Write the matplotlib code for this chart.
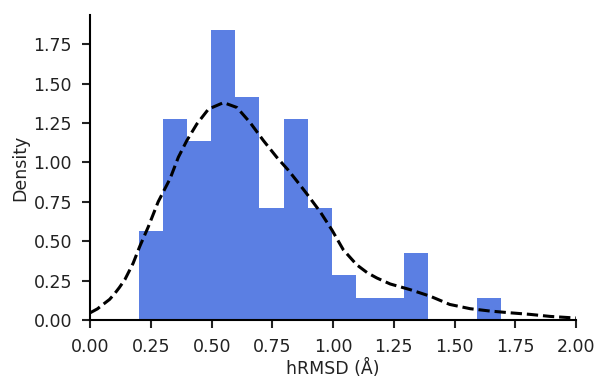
import numpy as np
import matplotlib.pyplot as plt

# Histogram: 15 equal bins between the smallest and largest hRMSD
bin_lo, bin_hi, n_bins = 0.20, 1.69, 15
counts = [4, 9, 8, 13, 10, 5, 9, 5, 2, 1, 1, 3, 0, 0, 1]

# Density estimate traced along the x range
kde_x = [0.00, 0.03, 0.053, 0.08, 0.10, 0.12, 0.143, 0.177, 0.204, 0.239, 0.28,
         0.329, 0.363, 0.398, 0.439, 0.487, 0.549, 0.604, 0.658, 0.713, 0.768,
         0.816, 0.862, 0.892, 0.947, 0.995, 1.042, 1.097, 1.14, 1.18, 1.235,
         1.317, 1.40, 1.48, 1.564, 1.646, 1.728, 1.81, 1.893, 1.975, 2.00]
kde_y = [0.045, 0.07, 0.098, 0.13, 0.165, 0.205, 0.256, 0.36, 0.466, 0.59, 0.75,
         0.897, 1.033, 1.139, 1.244, 1.339, 1.38, 1.349, 1.254, 1.139, 1.033,
         0.95, 0.86, 0.80, 0.686, 0.571, 0.445, 0.35, 0.30, 0.266, 0.228,
         0.192, 0.15, 0.098, 0.071, 0.056, 0.045, 0.035, 0.022, 0.014, 0.012]

plt.rcParams["font.family"] = "DejaVu Sans"
plt.rcParams["font.size"] = 12.5

fig = plt.figure(figsize=(5.97, 3.79), dpi=100)
ax = fig.add_axes([0.151, 0.156, 0.814, 0.804])

edges = np.linspace(bin_lo, bin_hi, n_bins + 1)
ax.hist(edges[:-1], bins=edges, weights=counts, density=True,
        color="#5b7fe3", linewidth=0)
ax.plot(kde_x, kde_y, color="black", linestyle="--", linewidth=2.2)

ax.set_xlim(0, 2)
ax.set_xticks(np.arange(0, 2.01, 0.25))
ax.set_yticks(np.arange(0, 1.76, 0.25))
ax.set_xticklabels([f"{t:.2f}" for t in np.arange(0, 2.01, 0.25)])
ax.set_yticklabels([f"{t:.2f}" for t in np.arange(0, 1.76, 0.25)])
ax.set_xlabel("hRMSD (Å)", labelpad=2, color="#222222")
ax.set_ylabel("Density", labelpad=3, color="#222222")

for spine in ["top", "right"]:
    ax.spines[spine].set_visible(False)
for spine in ["left", "bottom"]:
    ax.spines[spine].set_linewidth(1.5)
ax.tick_params(width=1.5, length=6, pad=7, colors="#222222")

fig.savefig("out.png", dpi=100)
